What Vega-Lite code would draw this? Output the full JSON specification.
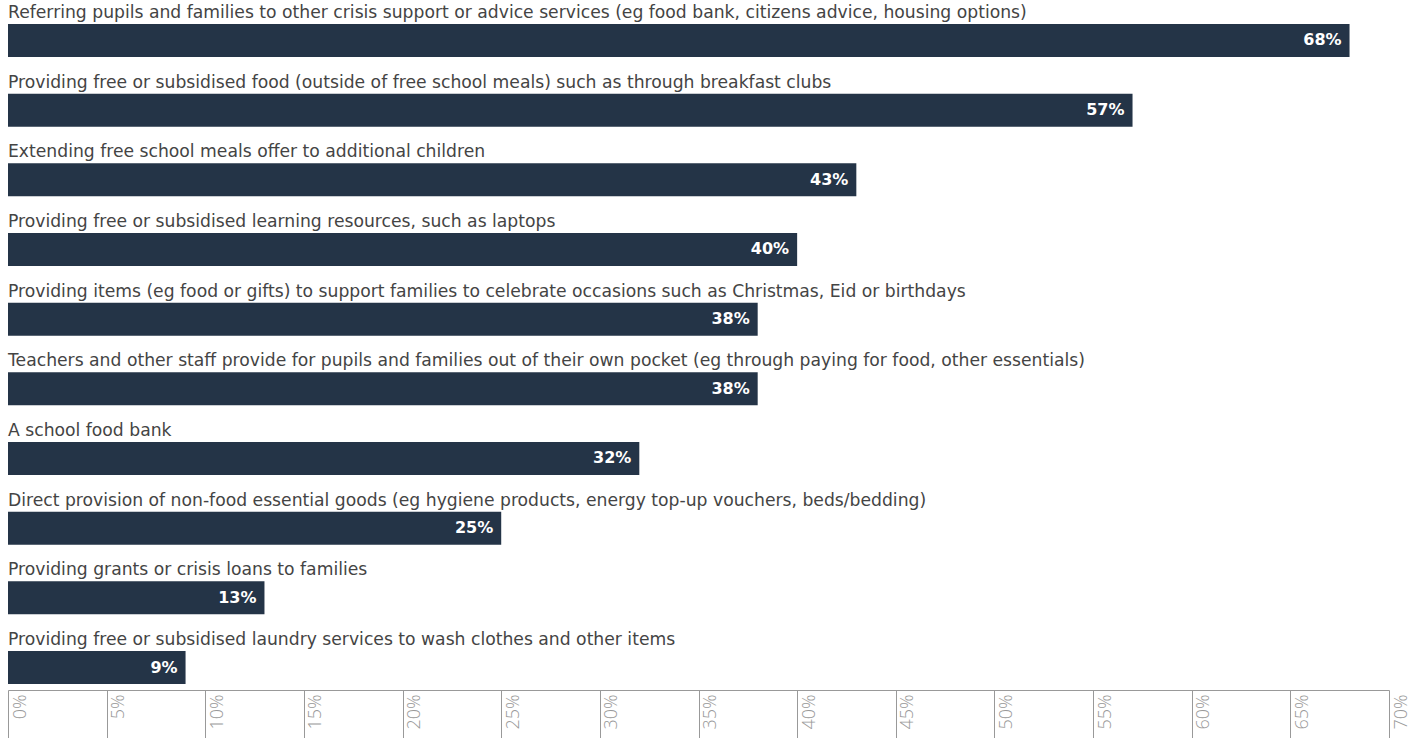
{
  "$schema": "https://vega.github.io/schema/vega-lite/v6.json",
  "autosize": "none",
  "width": 1381,
  "height": 690,
  "padding": {"left": 8, "top": 0, "right": 35, "bottom": 48},
  "background": "white",
  "config": {"view": {"stroke": null}, "font": "DejaVu Sans"},
  "data": {"values": [
    {"item": "Referring pupils and families to other crisis support or advice services (eg food bank, citizens advice, housing options)", "share": 0.68},
    {"item": "Providing free or subsidised food (outside of free school meals) such as through breakfast clubs", "share": 0.57},
    {"item": "Extending free school meals offer to additional children", "share": 0.43},
    {"item": "Providing free or subsidised learning resources, such as laptops", "share": 0.40},
    {"item": "Providing items (eg food or gifts) to support families to celebrate occasions such as Christmas, Eid or birthdays", "share": 0.38},
    {"item": "Teachers and other staff provide for pupils and families out of their own pocket (eg through paying for food, other essentials)", "share": 0.38},
    {"item": "A school food bank", "share": 0.32},
    {"item": "Direct provision of non-food essential goods (eg hygiene products, energy top-up vouchers, beds/bedding)", "share": 0.25},
    {"item": "Providing grants or crisis loans to families", "share": 0.13},
    {"item": "Providing free or subsidised laundry services to wash clothes and other items", "share": 0.09}
  ]},
  "encoding": {
    "y": {"field": "item", "type": "nominal", "sort": null,
      "scale": {"paddingInner": 0.5263, "paddingOuter": 0.2152, "align": 0.8},
      "axis": null}
  },
  "layer": [
    {
      "mark": {"type": "bar", "color": "#243447"},
      "encoding": {
        "x": {"field": "share", "type": "quantitative",
          "scale": {"domain": [0, 0.7], "nice": false},
          "axis": {"values": [0,0.05,0.1,0.15,0.2,0.25,0.3,0.35,0.4,0.45,0.5,0.55,0.6,0.65,0.7],
            "format": ".0%",
            "title": null, "grid": false,
            "domainColor": "#999", "tickColor": "#999", "tickSize": 48,
            "labelAngle": -90, "labelAlign": "right", "labelBaseline": "top",
            "labelPadding": -44, "labelOffset": 3, "labelColor": "#999",
            "labelFontSize": 18, "labelFont": "Open Sans", "labelFontWeight": 300,
            "labelFlush": false, "labelOverlap": false}
        }
      }
    },
    {
      "mark": {"type": "text", "align": "left", "baseline": "bottom", "dy": -2, "fontSize": 17.2, "color": "#444", "font": "DejaVu Sans"},
      "encoding": {
        "x": {"datum": 0, "type": "quantitative"},
        "y": {"field": "item", "type": "nominal", "sort": null, "bandPosition": 0},
        "text": {"field": "item"}
      }
    },
    {
      "mark": {"type": "text", "align": "right", "baseline": "middle", "dx": -8, "fontSize": 16, "fontWeight": "bold", "color": "white", "font": "DejaVu Sans"},
      "encoding": {
        "x": {"field": "share", "type": "quantitative"},
        "text": {"field": "share", "type": "quantitative", "format": ".0%"}
      }
    }
  ]
}
